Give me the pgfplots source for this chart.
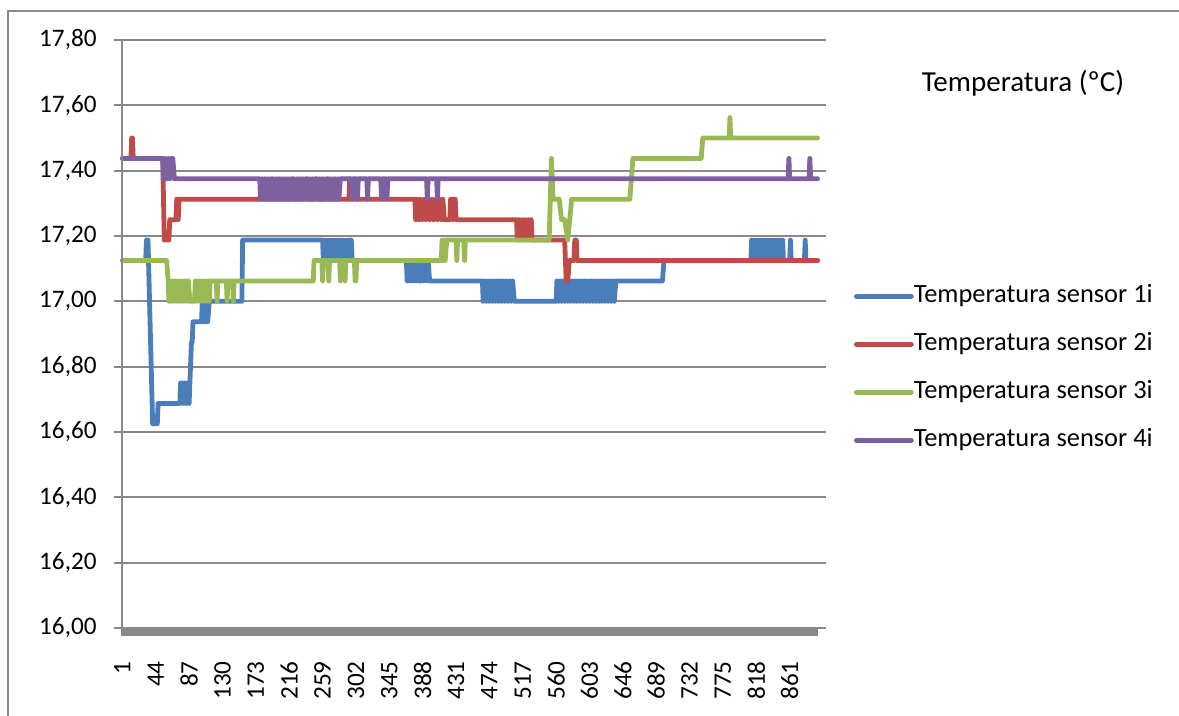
\documentclass[border=0pt]{standalone}
\usepackage{pgfplots}
\pgfplotsset{compat=1.18}
\usepackage{fontspec}
\setmainfont{Carlito}
\definecolor{s1}{HTML}{4A7EBB}
\definecolor{s2}{HTML}{BE4B48}
\definecolor{s3}{HTML}{98B954}
\definecolor{s4}{HTML}{7D60A0}
\definecolor{gridc}{HTML}{898989}
\begin{document}
\fontsize{13}{15.6}\selectfont
\begin{tikzpicture}
\useasboundingbox (0,0) rectangle (589.5pt,358pt);
\draw[color=gridc, line width=0.75pt] (4pt,0pt) -- (4pt,352.5pt) -- (589.5pt,352.5pt);
\node[anchor=center, inner sep=0pt, font=\fontsize{14.5}{17}\selectfont] at (511.5pt,316.5pt) {Temperatura (ºC)};
\begin{axis}[
  at={(61pt,44pt)}, anchor=south west,
  width=348pt, height=294pt, scale only axis,
  xmin=0.5, xmax=897.5, ymin=16, ymax=17.8,
  clip=false, no markers,
  axis line style={draw=none},
  ymajorgrids, grid style={color=gridc, line width=0.9pt},
  ytick={16,16.2,16.4,16.6,16.8,17,17.2,17.4,17.6,17.8},
  yticklabels={{16,00},{16,20},{16,40},{16,60},{16,80},{17,00},{17,20},{17,40},{17,60},{17,80}},
  xtick={1,44,87,130,173,216,259,302,345,388,431,474,517,560,603,646,689,732,775,818,861},
  xticklabels={1,44,87,130,173,216,259,302,345,388,431,474,517,560,603,646,689,732,775,818,861},
  x tick style={draw=none},
  y tick style={color=gridc, line width=0.9pt},
  tick align=outside, major tick length=4pt,
  yticklabel style={anchor=east, inner sep=0pt},
  yticklabel shift=8.5pt,
  xticklabel style={rotate=90, anchor=east, inner sep=0pt},
  xticklabel shift=12.5pt,
  /pgf/number format/assume math mode=true,
  tick label style={font=\fontsize{12.6}{15}\selectfont},
  every axis plot/.append style={line width=2.4pt, line join=round, line cap=round},
  legend style={at={(1.0517,0.5844)}, anchor=north west, draw=none, fill=none,
    inner sep=0pt, outer sep=0pt, row sep=12pt, column sep=0pt,
    nodes={inner sep=0pt, text height=9pt, text depth=3pt},
    font=\fontsize{13.2}{15.6}\selectfont},
  legend cell align=left,
  legend image code/.code={\draw[#1] (0pt,0pt) -- (27.5pt,0pt);},
]
% sensor 1
\addplot[s1] coordinates {(1,17.125) (31,17.125) (32,17.1875) (34,17.1875) (40,16.625) (46,16.625) (47,16.6875) (75,16.6875) (76,16.75) (78,16.75) (79,16.6875) (80,16.75) (82,16.75) (83,16.6875) (84,16.75) (86,16.75) (87,16.6875) (88,16.75) (89,16.8125) (90,16.875) (91,16.875) (92,16.9375) (103,16.9375) (104,17) (105,16.9375) (107,17) (108,16.9375) (110,17) (111,16.9375) (113,17) (155,17) (156,17.1875) (259,17.1875) (260,17.125) (262,17.1875) (264,17.125) (266,17.1875) (268,17.125) (270,17.1875) (272,17.125) (274,17.1875) (276,17.125) (278,17.1875) (280,17.125) (282,17.1875) (284,17.125) (286,17.1875) (288,17.125) (290,17.1875) (292,17.125) (294,17.1875) (296,17.1875) (297,17.125) (367,17.125) (368,17.0625) (370,17.125) (372,17.0625) (374,17.125) (376,17.0625) (378,17.125) (380,17.0625) (382,17.125) (383,17.0625) (386,17.0625) (387,17.125) (389,17.0625) (391,17.125) (393,17.0625) (395,17.125) (397,17.0625) (465,17.0625) (466,17) (468,17.0625) (470,17) (472,17.0625) (474,17) (476,17.0625) (478,17) (480,17.0625) (482,17) (484,17.0625) (486,17) (488,17.0625) (490,17) (492,17.0625) (494,17) (496,17.0625) (498,17) (500,17.0625) (502,17) (504,17.0625) (506,17) (560,17) (561,17.0625) (563,17) (565,17.0625) (567,17) (569,17.0625) (571,17) (573,17.0625) (575,17) (577,17.0625) (579,17) (581,17.0625) (583,17) (585,17.0625) (587,17) (589,17.0625) (591,17) (593,17.0625) (595,17) (597,17.0625) (599,17) (601,17.0625) (603,17) (605,17.0625) (607,17) (609,17.0625) (611,17) (613,17.0625) (615,17) (617,17.0625) (619,17) (621,17.0625) (623,17) (625,17.0625) (627,17) (629,17.0625) (631,17) (633,17.0625) (635,17) (637,17.0625) (697,17.0625) (699,17.125) (811,17.125) (812,17.1875) (814,17.125) (816,17.1875) (818,17.125) (820,17.1875) (822,17.125) (824,17.1875) (826,17.125) (828,17.1875) (830,17.125) (832,17.1875) (834,17.125) (836,17.1875) (838,17.125) (840,17.1875) (842,17.125) (844,17.1875) (846,17.125) (848,17.1875) (850,17.125) (852,17.1875) (853,17.125) (861,17.125) (862,17.1875) (863,17.125) (880,17.125) (881,17.1875) (882,17.125) (897,17.125)};
\addlegendentry{Temperatura sensor 1i}
% sensor 2
\addplot[s2] coordinates {(1,17.4375) (12,17.4375) (13,17.5) (14,17.5) (15,17.4375) (53,17.4375) (55,17.1875) (61,17.1875) (62,17.25) (70,17.25) (71,17.3125) (72,17.3125) (73,17.25) (74,17.3125) (293,17.3125) (294,17.375) (295,17.3125) (378,17.3125) (379,17.25) (381,17.3125) (383,17.25) (385,17.3125) (387,17.25) (390,17.3125) (392,17.25) (395,17.3125) (397,17.25) (400,17.3125) (402,17.25) (405,17.3125) (407,17.25) (410,17.3125) (412,17.25) (414,17.3125) (416,17.25) (423,17.25) (424,17.3125) (426,17.3125) (427,17.25) (428,17.3125) (430,17.3125) (431,17.25) (509,17.25) (510,17.1875) (512,17.25) (514,17.1875) (516,17.25) (518,17.1875) (520,17.25) (522,17.1875) (524,17.25) (526,17.1875) (528,17.25) (529,17.1875) (571,17.1875) (573,17.0625) (575,17.0625) (577,17.125) (583,17.125) (584,17.1875) (586,17.1875) (587,17.125) (897,17.125)};
\addlegendentry{Temperatura sensor 2i}
% sensor 3
\addplot[s3] coordinates {(1,17.125) (58,17.125) (60,17.0625) (61,17) (62,17.0625) (64,17) (66,17.0625) (68,17) (70,17.0625) (72,17) (74,17.0625) (76,17) (78,17.0625) (80,17) (82,17.0625) (84,17) (86,17.0625) (88,17) (94,17) (95,17.0625) (97,17) (99,17.0625) (101,17) (103,17.0625) (105,17) (107,17.0625) (109,17) (111,17.0625) (113,17) (114,17.0625) (122,17.0625) (123,17) (124,17.0625) (135,17.0625) (136,17) (137,17.0625) (143,17.0625) (144,17) (145,17.0625) (247,17.0625) (248,17.125) (258,17.125) (259,17.0625) (260,17.125) (266,17.125) (267,17.0625) (268,17.125) (281,17.125) (282,17.0625) (284,17.125) (287,17.125) (288,17.0625) (289,17.125) (300,17.125) (301,17.0625) (302,17.0625) (303,17.125) (412,17.125) (413,17.1875) (414,17.125) (416,17.1875) (417,17.125) (419,17.1875) (431,17.1875) (432,17.125) (433,17.1875) (441,17.1875) (442,17.125) (443,17.1875) (551,17.1875) (554,17.4375) (556,17.3125) (564,17.3125) (567,17.25) (571,17.25) (575,17.1875) (580,17.3125) (655,17.3125) (659,17.4375) (747,17.4375) (749,17.5) (783,17.5) (784,17.5625) (785,17.5) (897,17.5)};
\addlegendentry{Temperatura sensor 3i}
% sensor 4
\addplot[s4] coordinates {(1,17.4375) (53,17.4375) (54,17.375) (56,17.4375) (58,17.375) (60,17.4375) (62,17.375) (64,17.4375) (66,17.4375) (68,17.375) (178,17.375) (179,17.3125) (181,17.375) (182,17.3125) (184,17.375) (185,17.3125) (187,17.375) (188,17.3125) (190,17.375) (191,17.3125) (193,17.375) (195,17.375) (196,17.3125) (198,17.375) (199,17.3125) (201,17.375) (202,17.3125) (204,17.375) (205,17.3125) (207,17.375) (208,17.3125) (210,17.375) (211,17.3125) (213,17.375) (214,17.3125) (216,17.375) (217,17.3125) (219,17.375) (222,17.375) (223,17.3125) (225,17.375) (226,17.3125) (228,17.375) (229,17.3125) (231,17.375) (232,17.3125) (234,17.375) (235,17.3125) (237,17.375) (240,17.375) (241,17.3125) (243,17.375) (244,17.3125) (246,17.375) (247,17.3125) (249,17.375) (252,17.375) (253,17.3125) (255,17.375) (256,17.3125) (258,17.375) (259,17.3125) (261,17.375) (262,17.3125) (264,17.375) (267,17.375) (268,17.3125) (270,17.375) (271,17.3125) (273,17.375) (274,17.3125) (276,17.375) (277,17.3125) (279,17.375) (280,17.3125) (282,17.375) (296,17.375) (297,17.3125) (298,17.375) (303,17.375) (304,17.3125) (305,17.375) (316,17.375) (317,17.3125) (318,17.375) (334,17.375) (335,17.3125) (336,17.375) (341,17.375) (342,17.3125) (343,17.375) (393,17.375) (394,17.3125) (395,17.375) (406,17.375) (407,17.3125) (408,17.375) (859,17.375) (860,17.4375) (861,17.375) (886,17.375) (887,17.4375) (888,17.375) (897,17.375)};
\addlegendentry{Temperatura sensor 4i}
\draw[color=gridc, line width=0.9pt] (axis cs:0.5,17.8) -- ([yshift=-4pt]axis cs:0.5,16);
\draw[color=gridc, line width=4pt] ([yshift=-2pt]axis cs:0.5,16) -- ([yshift=-2pt]axis cs:897.5,16);
\end{axis}
\end{tikzpicture}
\end{document}
